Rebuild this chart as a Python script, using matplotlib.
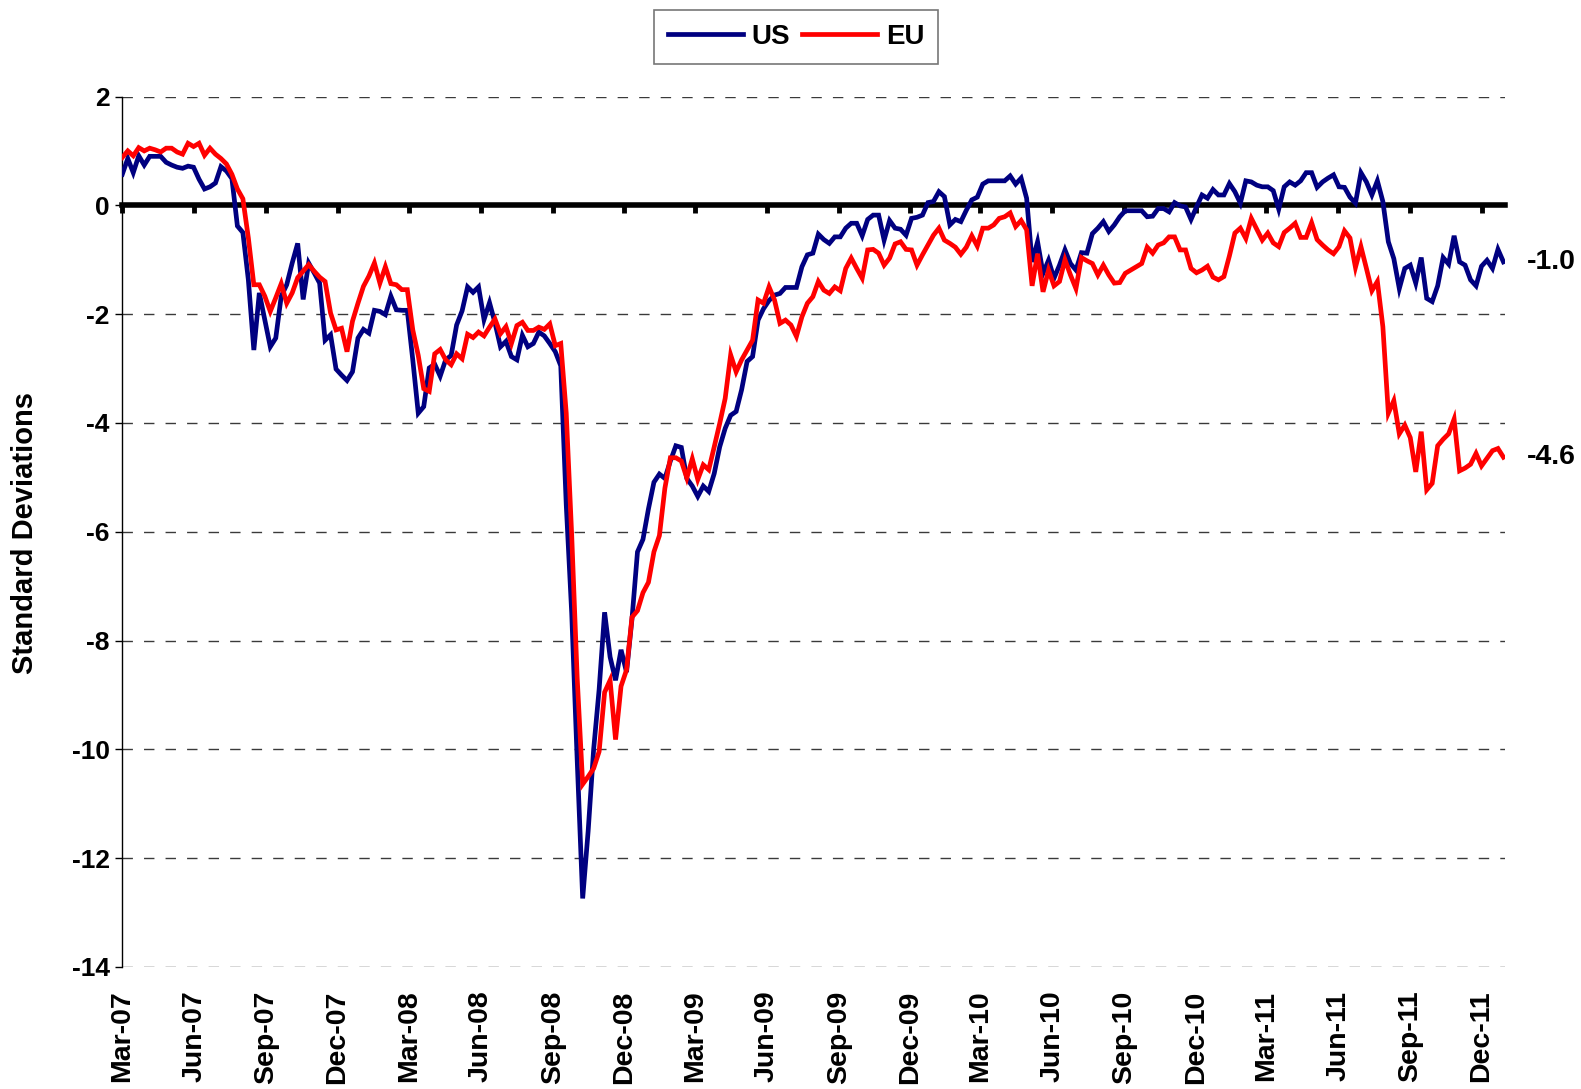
import matplotlib
matplotlib.use("Agg")
import matplotlib.pyplot as plt
import pandas as pd
import numpy as np

plt.rcParams['font.family'] = ['Liberation Sans', 'DejaVu Sans']
plt.rcParams['font.weight'] = 'bold'

# weekly observations starting Mar-2007
start_date = "2007-03-01"

us = [0.57, 0.86, 0.60, 0.91, 0.74, 0.90, 0.90, 0.90, 0.79, 0.74,
      0.70, 0.68, 0.72, 0.70, 0.48, 0.30, 0.34, 0.41, 0.71, 0.63,
      0.49, -0.38, -0.50, -1.37, -2.66, -1.61, -2.10, -2.60, -2.44, -1.67,
      -1.46, -1.06, -0.70, -1.73, -1.06, -1.24, -1.43, -2.48, -2.38, -3.01,
      -3.12, -3.22, -3.06, -2.44, -2.28, -2.35, -1.93, -1.95, -2.01, -1.67,
      -1.92, -1.93, -1.93, -2.84, -3.82, -3.70, -2.99, -2.92, -3.14, -2.84,
      -2.76, -2.20, -1.94, -1.50, -1.60, -1.50, -2.10, -1.79, -2.16, -2.60,
      -2.50, -2.78, -2.84, -2.39, -2.60, -2.54, -2.33, -2.40, -2.54, -2.69,
      -2.95, -5.50, -7.50, -10.20, -12.74, -11.50, -10.00, -8.90, -7.48, -8.30,
      -8.73, -8.17, -8.58, -7.60, -6.37, -6.14, -5.58, -5.09, -4.94, -5.02,
      -4.70, -4.42, -4.45, -5.02, -5.16, -5.35, -5.16, -5.26, -4.93, -4.44,
      -4.10, -3.86, -3.79, -3.39, -2.87, -2.78, -2.11, -1.90, -1.75, -1.65,
      -1.62, -1.51, -1.51, -1.51, -1.13, -0.91, -0.88, -0.53, -0.63, -0.70,
      -0.58, -0.58, -0.42, -0.33, -0.33, -0.56, -0.26, -0.18, -0.18, -0.64,
      -0.28, -0.42, -0.44, -0.55, -0.24, -0.22, -0.18, 0.05, 0.07, 0.25,
      0.16, -0.36, -0.26, -0.30, -0.09, 0.10, 0.15, 0.39, 0.45, 0.45,
      0.45, 0.45, 0.54, 0.39, 0.50, 0.13, -1.04, -0.67, -1.25, -1.01,
      -1.34, -1.10, -0.82, -1.07, -1.19, -0.87, -0.88, -0.52, -0.42, -0.30,
      -0.48, -0.36, -0.21, -0.10, -0.10, -0.10, -0.10, -0.21, -0.20, -0.06,
      -0.06, -0.12, 0.05, -0.01, -0.03, -0.26, -0.03, 0.19, 0.13, 0.29,
      0.19, 0.19, 0.40, 0.25, 0.04, 0.45, 0.43, 0.37, 0.34, 0.34,
      0.27, -0.07, 0.34, 0.43, 0.37, 0.45, 0.60, 0.60, 0.33, 0.43,
      0.50, 0.56, 0.34, 0.33, 0.15, 0.04, 0.60, 0.43, 0.19, 0.45,
      0.07, -0.67, -0.98, -1.53, -1.16, -1.10, -1.43, -0.96, -1.71, -1.77,
      -1.48, -0.96, -1.08, -0.56, -1.04, -1.10, -1.37, -1.48, -1.12, -1.01,
      -1.16, -0.81, -1.04]

eu = [0.88, 1.00, 0.91, 1.06, 1.00, 1.05, 1.02, 0.98, 1.05, 1.05,
      0.98, 0.94, 1.14, 1.08, 1.14, 0.92, 1.05, 0.94, 0.86, 0.76,
      0.57, 0.30, 0.12, -0.60, -1.46, -1.46, -1.67, -1.95, -1.70, -1.44,
      -1.80, -1.61, -1.33, -1.21, -1.09, -1.21, -1.32, -1.40, -1.98, -2.29,
      -2.26, -2.69, -2.13, -1.80, -1.49, -1.30, -1.06, -1.43, -1.13, -1.44,
      -1.46, -1.55, -1.55, -2.29, -2.76, -3.37, -3.42, -2.73, -2.65, -2.84,
      -2.93, -2.73, -2.82, -2.37, -2.43, -2.33, -2.40, -2.24, -2.09, -2.36,
      -2.23, -2.54, -2.21, -2.15, -2.30, -2.30, -2.24, -2.28, -2.18, -2.58,
      -2.54, -3.82, -6.07, -8.69, -10.64, -10.50, -10.35, -10.04, -8.95, -8.73,
      -9.82, -8.84, -8.54, -7.57, -7.45, -7.12, -6.93, -6.37, -6.07, -5.20,
      -4.64, -4.64, -4.70, -5.01, -4.66, -5.04, -4.77, -4.86, -4.44, -4.01,
      -3.55, -2.75, -3.06, -2.84, -2.66, -2.48, -1.74, -1.80, -1.50, -1.74,
      -2.17, -2.11, -2.20, -2.41, -2.05, -1.80, -1.68, -1.40, -1.56, -1.62,
      -1.50, -1.57, -1.16, -0.97, -1.16, -1.34, -0.82, -0.81, -0.88, -1.10,
      -0.97, -0.71, -0.67, -0.81, -0.82, -1.10, -0.91, -0.73, -0.55, -0.42,
      -0.64, -0.70, -0.77, -0.90, -0.77, -0.56, -0.75, -0.42, -0.42, -0.36,
      -0.24, -0.21, -0.14, -0.39, -0.28, -0.45, -1.48, -0.89, -1.59, -1.19,
      -1.48, -1.40, -1.00, -1.28, -1.53, -0.96, -1.02, -1.07, -1.28, -1.10,
      -1.28, -1.43, -1.42, -1.25, -1.19, -1.13, -1.07, -0.77, -0.88, -0.73,
      -0.69, -0.58, -0.58, -0.82, -0.82, -1.16, -1.24, -1.19, -1.12, -1.32,
      -1.37, -1.31, -0.93, -0.51, -0.42, -0.61, -0.24, -0.44, -0.64, -0.51,
      -0.69, -0.76, -0.50, -0.42, -0.33, -0.59, -0.59, -0.32, -0.63, -0.73,
      -0.82, -0.89, -0.76, -0.47, -0.60, -1.14, -0.76, -1.16, -1.57, -1.40,
      -2.23, -3.82, -3.59, -4.20, -4.04, -4.27, -4.90, -4.16, -5.23, -5.11,
      -4.42, -4.30, -4.20, -3.93, -4.88, -4.83, -4.76, -4.56, -4.79, -4.65,
      -4.51, -4.47, -4.63]

series_names = ["US", "EU"]
series_colors = ["#000080", "#FF0000"]
tick_labels = ["Mar-07", "Jun-07", "Sep-07", "Dec-07", "Mar-08", "Jun-08",
               "Sep-08", "Dec-08", "Mar-09", "Jun-09", "Sep-09", "Dec-09",
               "Mar-10", "Jun-10", "Sep-10", "Dec-10", "Mar-11", "Jun-11",
               "Sep-11", "Dec-11"]
end_labels = ["-1.0", "-4.6"]

dates = pd.date_range(start_date, periods=len(us), freq="7D")
tick_dates = pd.to_datetime(["01-" + t for t in tick_labels], format="%d-%b-%y")

fig = plt.figure(figsize=(15.81, 10.89), dpi=100)
ax = fig.add_axes([122.3 / 1581, 1 - 967 / 1089, (1505 - 122.3) / 1581, (967 - 96.5) / 1089])

lines = []
for vals, name, col in zip([us, eu], series_names, series_colors):
    ln, = ax.plot(dates, vals, color=col, lw=3.4, label=name, zorder=3,
                  solid_joinstyle='miter')
    lines.append(ln)

ax.set_ylim(-14, 2)
ax.set_xlim(dates[0], dates[0] + pd.Timedelta(days=1766))
ax.set_yticks(np.arange(-14, 3, 2))
ax.set_yticklabels([f"{v:d}" for v in np.arange(-14, 3, 2)], fontsize=19, fontweight='bold')
ax.yaxis.grid(True, linestyle=(0, (7.5, 8.0)), color='#3a3a3a', lw=1.0, zorder=0)
ax.tick_params(axis='y', direction='out', length=5, width=1.0, pad=4)

for s in ['top', 'right']:
    ax.spines[s].set_visible(False)
ax.spines['left'].set_linewidth(1.0)
ax.spines['bottom'].set_position(('data', 0))
ax.spines['bottom'].set_linewidth(4.0)
ax.spines['bottom'].set_zorder(2)
ax.set_xticks(tick_dates)
ax.tick_params(axis='x', direction='out', length=6, width=3.5, labelbottom=False)

sec = ax.secondary_xaxis(0.0)
sec.set_xticks(tick_dates)
sec.set_xticklabels(tick_labels, rotation=90, fontsize=20.5, fontweight='bold', va='top', ha='center')
sec.tick_params(axis='x', length=0, pad=17)
sec.spines['bottom'].set_visible(False)

# end-value labels
for vals, lab in zip([us, eu], end_labels):
    ax.annotate(lab, xy=(dates[-1], vals[-1]), xytext=(17, 0), textcoords='offset points',
                fontsize=20.5, fontweight='bold', va='center', ha='left', annotation_clip=False)

fig.text(25 / 1581, 0.511, "Standard Deviations", rotation=90, fontsize=21,
         fontweight='bold', ha='center', va='center')

leg = fig.legend(handles=lines, labels=series_names, loc='upper center',
                 bbox_to_anchor=(796 / 1581, 1 - 10 / 1089), ncol=2, frameon=True, fancybox=False,
                 edgecolor='#555555', handlelength=2.7, handletextpad=0.3, columnspacing=0.45,
                 borderpad=0.5, borderaxespad=0.0, prop={'size': 20, 'weight': 'bold'})
leg.get_frame().set_linewidth(1.2)

fig.savefig("out.png", dpi=100)
